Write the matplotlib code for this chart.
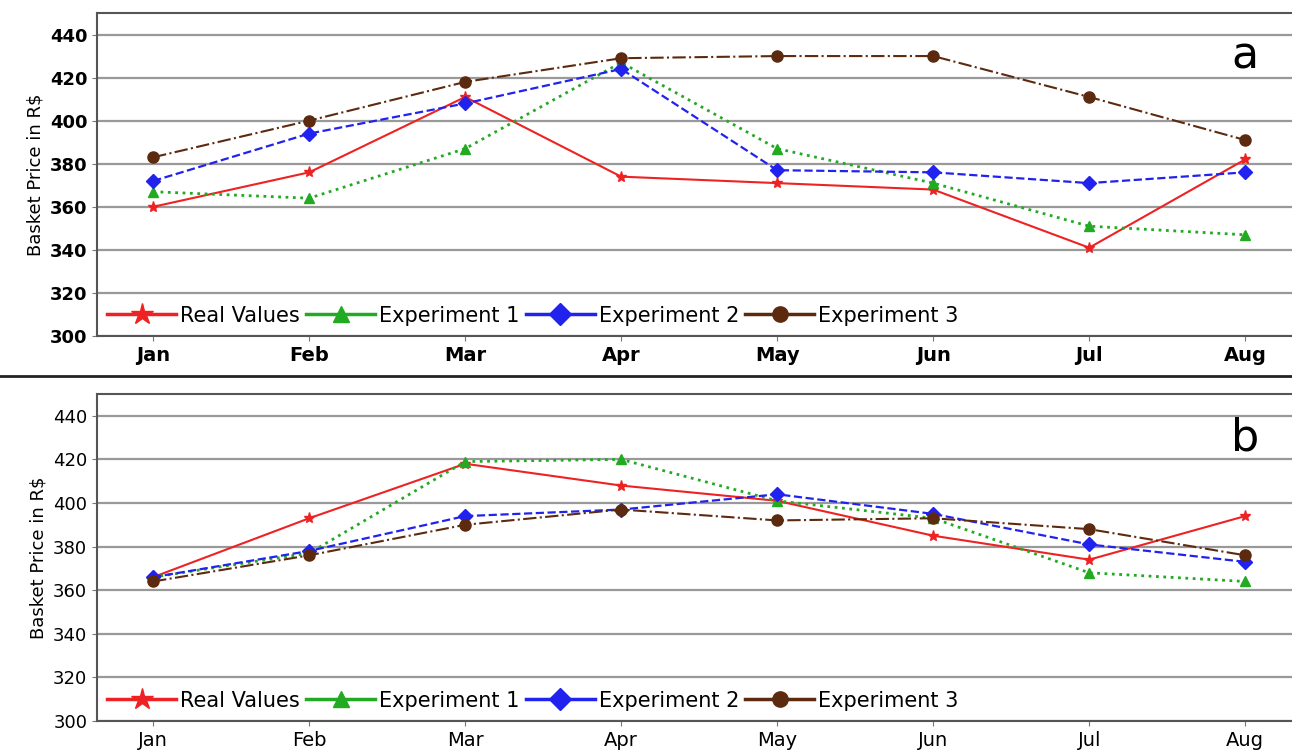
import numpy as np
import matplotlib.pyplot as plt
from matplotlib.lines import Line2D

months = ['Jan', 'Feb', 'Mar', 'Apr', 'May', 'Jun', 'Jul', 'Aug']

# panel a
real_a = [360, 376, 411, 374, 371, 368, 341, 382]
exp1_a = [367, 364, 387, 427, 387, 371, 351, 347]
exp2_a = [372, 394, 408, 424, 377, 376, 371, 376]
exp3_a = [383, 400, 418, 429, 430, 430, 411, 391]

# panel b
real_b = [366, 393, 418, 408, 401, 385, 374, 394]
exp1_b = [366, 377, 419, 420, 401, 393, 368, 364]
exp2_b = [366, 378, 394, 397, 404, 395, 381, 373]
exp3_b = [364, 376, 390, 397, 392, 393, 388, 376]

yticks = [300, 320, 340, 360, 380, 400, 420, 440]
names = ['Real Values', 'Experiment 1', 'Experiment 2', 'Experiment 3']

cols = ['#ee2222', '#22aa22', '#2222ee', '#5c2a0e']
mks = ['*', '^', 'D', 'o']

fig = plt.figure(figsize=(12.92, 7.51), dpi=100)
ax_a = fig.add_axes([97/1292, 1-336/751, 1-97/1292, 323/751])
ax_b = fig.add_axes([97/1292, 1-721/751, 1-97/1292, 327/751])

# separator line between panels
fig.add_artist(Line2D([0, 1], [1-376/751, 1-376/751], color='#222222', lw=2))

x = np.arange(len(months))


def draw(ax, real, e1, e2, e3, letter, bold):
    w = 'bold' if bold else 'normal'
    ax.plot(x, real, color=cols[0], lw=1.5, ls='-', marker='*', ms=8)
    ax.plot(x, e1, color=cols[1], lw=2, ls=':', marker='^', ms=7)
    ax.plot(x, e2, color=cols[2], lw=1.6, ls='--', marker='D', ms=7)
    ax.plot(x, e3, color=cols[3], lw=1.5, ls='-.', marker='o', ms=8)
    ax.set_xlim(-0.36, 7.3)
    ax.set_ylim(300, 450)
    ax.set_yticks(yticks)
    ax.set_xticks(x)
    ax.set_xticklabels(months, fontsize=14, fontweight=w)
    for t in ax.get_yticklabels():
        t.set_fontsize(13)
        t.set_fontweight(w)
    ax.tick_params(color='#777777')
    ax.yaxis.grid(True, color='#999999', lw=1.6)
    ax.set_axisbelow(True)
    for s in ['left', 'bottom', 'top']:
        ax.spines[s].set_color('#555555')
        ax.spines[s].set_linewidth(1.5)
    ax.spines['right'].set_visible(False)
    ax.set_ylabel('Basket Price in R\\$', fontsize=13)
    ax.text(7.0, 430, letter, fontsize=32, ha='center', va='center')
    handles = [Line2D([], [], color=c, lw=2.5, marker=m, ms=16 if m == '*' else 11)
               for c, m in zip(cols, mks)]
    ax.legend(handles, names, loc='lower left', ncol=4, frameon=False, fontsize=15,
              bbox_to_anchor=(0.0, 0.0), handlelength=3.3, columnspacing=0.3,
              handletextpad=0.2, borderaxespad=0.3, borderpad=0.2)


draw(ax_a, real_a, exp1_a, exp2_a, exp3_a, 'a', True)
draw(ax_b, real_b, exp1_b, exp2_b, exp3_b, 'b', False)

fig.savefig('out.png', dpi=100)
